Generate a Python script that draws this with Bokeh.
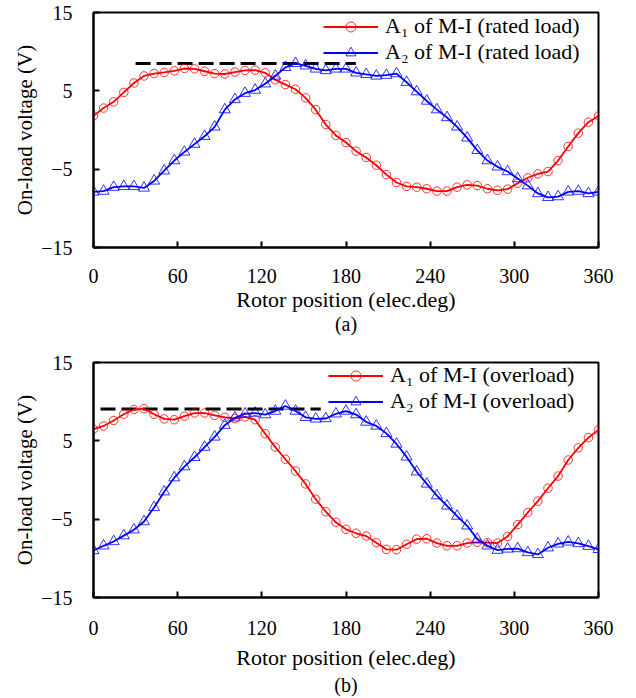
from bokeh.plotting import figure
from bokeh.models import Legend, LegendItem, FixedTicker, Title, Range1d
from bokeh.layouts import column
from bokeh.embed import file_html
from bokeh.resources import INLINE

# ---------------- data ----------------
rotor_pos = [0, 7.2, 14.4, 21.6, 28.8, 36, 43.2, 50.4, 57.6, 64.8,
             72, 79.2, 86.4, 93.6, 100.8, 108, 115.2, 122.4, 129.6, 136.8,
             144, 151.2, 158.4, 165.6, 172.8, 180, 187.2, 194.4, 201.6, 208.8,
             216, 223.2, 230.4, 237.6, 244.8, 252, 259.2, 266.4, 273.6, 280.8,
             288, 295.2, 302.4, 309.6, 316.8, 324, 331.2, 338.4, 345.6, 352.8,
             360]

a1_rated = [1.8, 2.8, 3.6, 4.8, 6.0, 6.9, 7.2, 7.35, 7.55, 7.85,
            7.8, 7.5, 7.2, 7.15, 7.4, 7.6, 7.65, 7.3, 6.4, 5.8,
            5.2, 4.1, 2.6, 0.7, -0.7, -1.6, -2.7, -3.5, -4.5, -5.7,
            -6.7, -7.2, -7.3, -7.5, -7.8, -7.8, -7.3, -7.0, -7.1, -7.5,
            -7.7, -7.55, -6.8, -6.1, -5.6, -5.3, -3.9, -2.1, -0.4, 1.0,
            1.8]

a2_rated = [-7.9, -7.8, -7.3, -7.2, -7.2, -7.4, -6.5, -5.2, -3.9, -2.8,
            -1.8, -0.8, 0.4, 2.6, 3.9, 4.7, 5.1, 5.9, 6.9, 8.0,
            8.5, 8.2, 7.8, 7.6, 7.8, 7.8, 7.3, 7.1, 6.9, 7.0,
            7.2, 6.1, 4.9, 3.7, 2.6, 1.6, 0.4, -1.0, -2.6, -3.9,
            -4.7, -5.3, -6.2, -7.1, -8.1, -8.6, -8.5, -7.9, -7.8, -8.1,
            -7.9]

a1_over = [6.5, 6.9, 7.6, 8.4, 9.0, 9.1, 8.4, 7.8, 7.7, 8.15,
           8.55, 8.55, 8.25, 8.0, 7.85, 8.05, 7.7, 5.9, 4.2, 2.65,
           1.15, -0.5, -2.45, -4.05, -5.4, -6.3, -6.8, -7.15, -8.0, -8.85,
           -8.9, -8.2, -7.55, -7.5, -8.05, -8.4, -8.4, -8.05, -7.95, -8.0,
           -8.05, -7.2, -5.7, -4.15, -2.7, -1.05, 0.5, 2.55, 4.1, 5.4,
           6.4]

a2_over = [-9.0, -8.4, -7.85, -7.1, -6.35, -5.3, -3.5, -1.5, 0.3, 1.7,
           2.9, 4.2, 5.5, 7.0, 7.95, 8.45, 8.55, 8.35, 8.8, 9.45,
           8.8, 8.0, 7.8, 7.85, 8.45, 8.8, 8.35, 7.4, 6.9, 5.95,
           4.6, 2.95, 1.05, -0.5, -2.0, -3.3, -4.6, -5.85, -7.55, -8.4,
           -8.95, -8.8, -8.75, -9.25, -9.5, -8.65, -8.15, -7.9, -8.1, -8.45,
           -8.85]

peak_rated_x = [30, 187]
peak_rated_y = [8.5, 8.5]
peak_over_x = [5, 162]
peak_over_y = [9.05, 9.05]

x_ticks = [0, 60, 120, 180, 240, 300, 360]
y_ticks = [-15, -5, 5, 15]

labels_rated = ["A\u2081 of M-I (rated load)", "A\u2082 of M-I (rated load)"]
labels_over = ["A\u2081 of M-I (overload)", "A\u2082 of M-I (overload)"]
x_title = "Rotor position (elec.deg)"
y_title = "On-load voltage (V)"

FONT = "Liberation Serif"
RED = "#ff0000"
BLUE = "#0000ff"
ROW_H = 25
FRAME_H = 235


def make_panel(a1, a2, peak_x, peak_y, labels, caption, top_border,
               bottom_border, xlab_standoff, xtitle_standoff, cap_standoff,
               legend_x, legend_top):
    p = figure(frame_width=505, frame_height=FRAME_H, output_backend="svg",
               toolbar_location=None,
               x_range=Range1d(0, 360), y_range=Range1d(-15, 15),
               min_border_left=93, min_border_right=38,
               min_border_top=top_border, min_border_bottom=bottom_border)
    p.background_fill_color = "white"
    p.border_fill_color = "white"
    p.outline_line_color = "black"
    p.outline_line_width = 2
    p.xgrid.visible = False
    p.ygrid.visible = False

    p.xaxis.ticker = FixedTicker(ticks=x_ticks)
    p.yaxis.ticker = FixedTicker(ticks=y_ticks)
    for ax in (p.xaxis, p.yaxis):
        ax.major_tick_in = 6
        ax.major_tick_out = 0
        ax.minor_tick_line_color = None
        ax.major_tick_line_width = 2
        ax.major_tick_line_color = "black"
        ax.axis_line_width = 2
        ax.axis_line_color = "black"
        ax.major_label_text_font = FONT
        ax.major_label_text_font_size = "20px"
        ax.major_label_text_color = "black"
        ax.axis_label_text_font = FONT
        ax.axis_label_text_font_style = "normal"
        ax.axis_label_text_color = "black"
    p.xaxis.axis_label_text_font_size = "22px"
    p.yaxis.axis_label_text_font_size = "21px"
    p.xaxis.axis_label = x_title
    p.yaxis.axis_label = y_title
    p.xaxis.major_label_standoff = xlab_standoff
    p.xaxis.axis_label_standoff = xtitle_standoff
    p.yaxis.major_label_standoff = 21
    p.yaxis.axis_label_standoff = 1

    # dashed reference line
    p.line(peak_x, peak_y, line_color="black", line_width=3, line_dash="15 6")

    l1 = p.line(rotor_pos, a1, line_color=RED, line_width=1.8)
    s1 = p.scatter(rotor_pos, a1, marker="circle", size=8.5, fill_color=None,
                   line_color=RED, line_width=1, line_alpha=0.8)
    l2 = p.line(rotor_pos, a2, line_color=BLUE, line_width=1.8)
    s2 = p.scatter(rotor_pos, a2, marker="triangle", size=11, fill_color=None,
                   line_color=BLUE, line_width=1, line_alpha=0.8)

    legend = Legend(items=[LegendItem(label=labels[0], renderers=[l1, s1]),
                           LegendItem(label=labels[1], renderers=[l2, s2])],
                    location=(legend_x, FRAME_H - legend_top - 2 * ROW_H),
                    orientation="vertical",
                    glyph_width=55, glyph_height=ROW_H, label_height=ROW_H,
                    label_standoff=7, spacing=0, padding=0, margin=0,
                    border_line_color=None, background_fill_alpha=0,
                    label_text_font=FONT, label_text_font_size="22px",
                    label_text_color="black")
    p.add_layout(legend, "center")

    cap = Title(text=caption, align="center", text_font=FONT,
                text_font_size="20px", text_font_style="normal",
                text_color="black", standoff=cap_standoff)
    p.add_layout(cap, "below")
    return p


p1 = make_panel(a1_rated, a2_rated, peak_rated_x, peak_rated_y, labels_rated,
                "(a)", 12, 88, 21, 1, -7, 230, 3)
p2 = make_panel(a1_over, a2_over, peak_over_x, peak_over_y, labels_over,
                "(b)", 27, 100, 23, 7, -2, 235, 2)

layout = column(p1, p2, spacing=0)
open("out.html", "w").write(file_html(layout, INLINE))
